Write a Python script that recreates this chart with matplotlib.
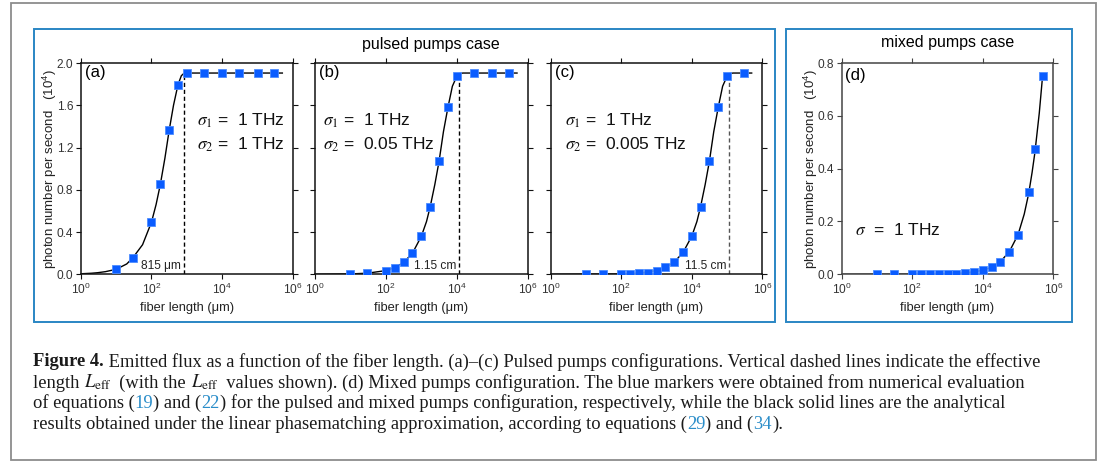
import matplotlib
matplotlib.use("Agg")
import matplotlib.pyplot as plt
from matplotlib.patches import Rectangle
from matplotlib.ticker import NullLocator

plt.rcParams["font.family"] = ["Liberation Sans", "DejaVu Sans"]
plt.rcParams["mathtext.fontset"] = "stix"

W, H = 1098, 462

# ---- (a) sigma1 = 1 THz, sigma2 = 1 THz ----
len_a = [10, 30, 100, 178, 316, 562, 1000, 3000, 10000, 30000, 100000, 300000]
flux_a = [0.047, 0.158, 0.493, 0.85, 1.362, 1.795, 1.905, 1.905, 1.905, 1.905, 1.905, 1.905]
fit_len_a = [1, 2, 3, 5, 10, 20, 30, 56, 100, 135, 178, 240, 316, 420, 562, 700, 815, 1000, 500000]
fit_flux_a = [0.005, 0.010, 0.015, 0.025, 0.047, 0.098, 0.158, 0.28, 0.493, 0.66, 0.85, 1.10,
              1.362, 1.60, 1.795, 1.88, 1.90, 1.905, 1.905]
leff_a = 815

# ---- (b) sigma1 = 1 THz, sigma2 = 0.05 THz ----
len_b = [10, 30, 100, 178, 316, 562, 1000, 1778, 3162, 5623, 10000, 30000, 100000, 300000]
flux_b = [0.003, 0.008, 0.035, 0.063, 0.114, 0.205, 0.363, 0.641, 1.071, 1.583, 1.874, 1.905, 1.905, 1.905]
fit_len_b = [1, 10, 30, 100, 178, 316, 562, 1000, 1400, 1778, 2400, 3162, 4200, 5623, 7500,
             10000, 11500, 15000, 500000]
fit_flux_b = [0.0003, 0.0035, 0.0105, 0.035, 0.063, 0.112, 0.2, 0.36, 0.5, 0.64, 0.85, 1.07,
              1.35, 1.58, 1.78, 1.874, 1.9, 1.905, 1.905]
leff_b = 11500

# ---- (c) sigma1 = 1 THz, sigma2 = 0.005 THz ----
len_c = [10, 30, 100, 178, 316, 562, 1000, 1778, 3162, 5623, 10000, 17783, 31623, 56234, 100000, 300000]
flux_c = [0.0, 0.001, 0.003, 0.005, 0.008, 0.016, 0.035, 0.066, 0.120, 0.209, 0.367, 0.641,
          1.074, 1.586, 1.880, 1.905]
fit_len_c = [1, 100, 316, 1000, 1778, 3162, 5623, 10000, 14000, 17783, 24000, 31623, 42000,
             56234, 75000, 100000, 115000, 150000, 500000]
fit_flux_c = [0.0, 0.0035, 0.011, 0.035, 0.064, 0.115, 0.205, 0.36, 0.5, 0.64, 0.85, 1.07,
              1.35, 1.58, 1.78, 1.874, 1.9, 1.905, 1.905]
leff_c = 115000

# ---- (d) mixed pumps, sigma = 1 THz ----
len_d = [10, 30, 100, 178, 316, 562, 1000, 1778, 3162, 5623, 10000, 17783, 31623, 56234,
         100000, 200000, 300000, 500000]
flux_d = [0.0, 0.0, 0.0, 0.0, 0.0, 0.001, 0.0015, 0.003, 0.005, 0.008, 0.015, 0.026, 0.048,
          0.084, 0.150, 0.312, 0.475, 0.752]
fit_len_d = [1, 1000, 3162, 10000, 17783, 31623, 56234, 100000, 150000, 200000, 250000,
             300000, 400000, 500000]
fit_flux_d = [0.0, 0.0015, 0.005, 0.015, 0.027, 0.048, 0.085, 0.15, 0.228, 0.305, 0.385,
              0.46, 0.61, 0.755]

xticks = [1, 1e2, 1e4, 1e6]
yticks_pulsed = [0.0, 0.4, 0.8, 1.2, 1.6, 2.0]
yticks_mixed = [0.0, 0.2, 0.4, 0.6, 0.8]

BLUE = "#0a5cff"
FRAME = "#2a86c4"
TICKC = "#333333"

fig = plt.figure(figsize=(W / 100, H / 100), dpi=100)


def px_axes(left, right, top, bottom):
    return fig.add_axes([left / W, 1 - bottom / H, (right - left) / W, (bottom - top) / H])


def style_axes(ax, ymax, yticks, show_ylabels, spine_color):
    ax.set_xscale("log")
    ax.set_xlim(1, 1e6)
    ax.set_ylim(0, ymax)
    ax.set_xticks(xticks)
    ax.xaxis.set_minor_locator(NullLocator())
    ax.set_yticks(yticks)
    ax.set_yticklabels([f"{v:.1f}" for v in yticks])
    ax.tick_params(direction="out", length=3.5, width=0.8, top=True, right=True,
                   labelsize=8.6, labelcolor=TICKC, pad=2, labelleft=show_ylabels,
                   color=spine_color)
    for sp in ax.spines.values():
        sp.set_linewidth(1.1)
        sp.set_color(spine_color)
    ax.set_xlabel("fiber length (μm)", fontsize=9.3, color="#222222", labelpad=3.5)
    if show_ylabels:
        ax.set_ylabel("photon number per second   ($\\mathdefault{10^{4}}$)",
                      fontsize=9.5, color="#222222", labelpad=-1.5)


def plot_panel(ax, fx, fy, mx, my):
    ax.plot(fx, fy, color="black", lw=1.0, zorder=2)
    ax.plot(mx, my, ls="none", marker="s", ms=5.4, color=BLUE,
            mec="#4d8cff", mew=0.6, zorder=3)


def mark_leff(ax, leff, top, label, color):
    ax.plot([leff, leff], [0, top], ls=(0, (3, 2)), color=color, lw=1.0, zorder=1)
    ax.annotate(label, xy=(leff, 0), xytext=(-2, 2), textcoords="offset points",
                ha="right", va="bottom", fontsize=8.6, color="#222222")


def sigma_text(ax, x, lines):
    ys = [0.7255, 0.612]
    for y, s in zip(ys, lines):
        ax.text(x, y, s, transform=ax.transAxes, fontsize=12.5, va="center", ha="left",
                color="#111111")


top, bottom = 63, 274.3
ax_a = px_axes(80.7, 293.0, top, bottom)
ax_b = px_axes(315.0, 527.7, top, bottom)
ax_c = px_axes(550.7, 762.3, top, bottom)
ax_d = px_axes(841.7, 1053.3, top, bottom)

style_axes(ax_a, 2.0, yticks_pulsed, True, "#111111")
style_axes(ax_b, 2.0, yticks_pulsed, False, "#111111")
style_axes(ax_c, 2.0, yticks_pulsed, False, "#111111")
style_axes(ax_d, 0.8, yticks_mixed, True, "#444444")

plot_panel(ax_a, fit_len_a, fit_flux_a, len_a, flux_a)
plot_panel(ax_b, fit_len_b, fit_flux_b, len_b, flux_b)
plot_panel(ax_c, fit_len_c, fit_flux_c, len_c, flux_c)
plot_panel(ax_d, fit_len_d, fit_flux_d, len_d, flux_d)

mark_leff(ax_a, leff_a, 1.9, "815 μm", "black")
mark_leff(ax_b, leff_b, 1.9, "1.15 cm", "black")
mark_leff(ax_c, leff_c, 1.9, "11.5 cm", "#555555")

for ax, lab in [(ax_a, "(a)"), (ax_b, "(b)"), (ax_c, "(c)")]:
    ax.text(0.02, 0.953, lab, transform=ax.transAxes, fontsize=12, va="center", ha="left")
ax_d.text(0.016, 0.942, "(d)", transform=ax_d.transAxes, fontsize=12, va="center", ha="left")

sigma_text(ax_a, 0.548, ["$\\sigma_1$ =  1 THz", "$\\sigma_2$ =  1 THz"])
sigma_text(ax_b, 0.038, ["$\\sigma_1$ =  1 THz", "$\\sigma_2$ =  0.05 THz"])
sigma_text(ax_c, 0.068, ["$\\sigma_1$ =  1 THz", "$\\sigma_2$ =  0.005 THz"])
ax_d.text(0.063, 0.209, "$\\sigma$  =  1 THz", transform=ax_d.transAxes, fontsize=12.5,
          va="center", ha="left", color="#111111")

fig.text(431 / W, 1 - 45 / H, "pulsed pumps case", fontsize=11.5, ha="center", va="center")
fig.text(948 / W, 1 - 43 / H, "mixed pumps case", fontsize=11.5, ha="center", va="center")

# frames
def px_rect(x0, y0, x1, y1, color, lw):
    fig.add_artist(Rectangle((x0 / W, 1 - y1 / H), (x1 - x0) / W, (y1 - y0) / H,
                             transform=fig.transFigure, fill=False, edgecolor=color, lw=lw))

px_rect(10.5, 3, 1096, 460, "#8c8c8c", 1.3)
px_rect(34, 29, 775, 322, FRAME, 1.4)
px_rect(786, 29, 1072, 322, FRAME, 1.4)

# caption
SERIF = ["Liberation Serif", "DejaVu Serif"]
CAP = 13.35
normal = dict(fontsize=CAP, family=SERIF, color="#1a1a1a")
bold = dict(fontsize=CAP, family=SERIF, color="#1a1a1a", weight="bold")
link = dict(fontsize=CAP, family=SERIF, color="#2a8dc9")

renderer = fig.canvas.get_renderer()


def seg_width(text, style):
    probe = fig.text(0, 0, text + "|", **style)
    ref = fig.text(0, 0, "|", **style)
    w = probe.get_window_extent(renderer).width - ref.get_window_extent(renderer).width
    probe.remove()
    ref.remove()
    return w


def caption_line(segments, x0, baseline):
    x = x0
    for text, style in segments:
        fig.text(x / W, 1 - baseline / H, text, va="baseline", ha="left", **style)
        x += seg_width(text, style)


LEFF = "$L_{\\mathrm{eff}}$"
cap_x = 33
caption_line([("Figure 4.", bold),
              (" Emitted flux as a function of the fiber length. (a)–(c) Pulsed pumps "
               "configurations. Vertical dashed lines indicate the effective", normal)],
             cap_x, 366.5)
caption_line([("length ", normal), (LEFF, normal), ("  (with the ", normal), (LEFF, normal),
              ("  values shown). (d) Mixed pumps configuration. The blue markers were "
               "obtained from numerical evaluation", normal)],
             cap_x, 387.5)
caption_line([("of equations (", normal), ("19", link), (") and (", normal), ("22", link),
              (") for the pulsed and mixed pumps configuration, respectively, while the "
               "black solid lines are the analytical", normal)],
             cap_x, 408.3)
caption_line([("results obtained under the linear phasematching approximation, according "
               "to equations (", normal), ("29", link), (") and (", normal), ("34", link),
              (").", normal)],
             cap_x, 429)

fig.savefig("out.png", dpi=100)
